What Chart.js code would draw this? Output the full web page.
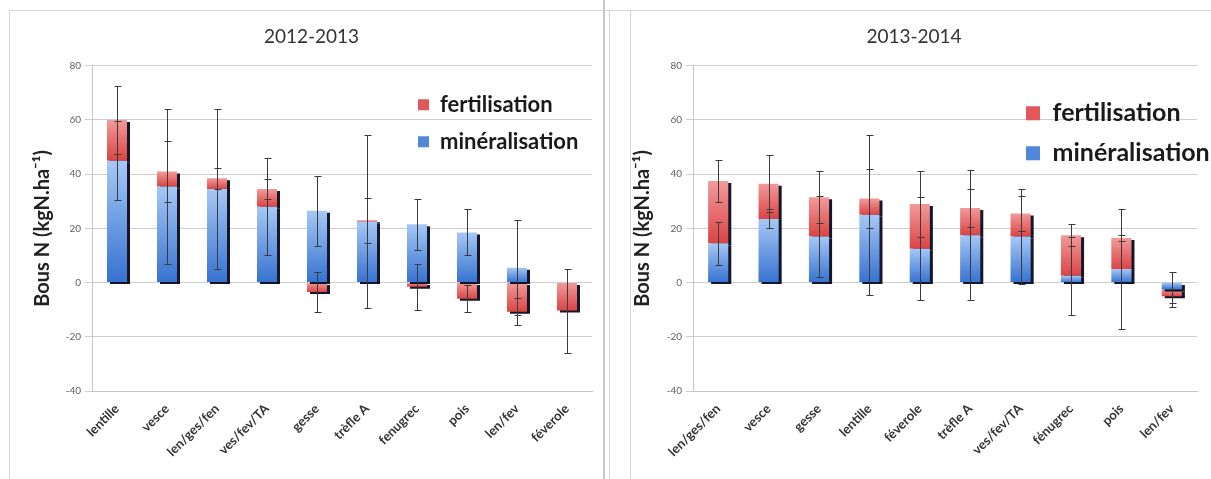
<!DOCTYPE html>
<html>
<head>
<meta charset="utf-8">
<script src="https://cdn.jsdelivr.net/npm/chart.js@4.4.1/dist/chart.umd.min.js"></script>
<style>
    body { margin: 0; background: #fff; }
    #wrap { position: relative; width: 1211px; height: 479px; overflow: hidden; }
    .panel { position: absolute; top: 0; width: 605px; height: 479px; }
    .frame { position: absolute; border: 1px solid #d6d6d6; pointer-events: none; }
</style>
</head>
<body>
<div id="wrap">
    <div class="panel" style="left:0"><canvas id="chart1" width="605" height="479"></canvas></div>
    <div class="panel" style="left:606px"><canvas id="chart2" width="605" height="479"></canvas></div>
    <div class="frame" style="left:9px;top:10px;width:620px;height:490px"></div>
    <div class="frame" style="left:603px;top:0;width:0;height:490px;border-color:#c8c8c8"></div>
    <div class="frame" style="left:609px;top:10px;width:620px;height:490px"></div>
</div>
<script>
// 2012-2013
const labels1 = ['lentille', 'vesce', 'len/ges/fen', 'ves/fev/TA', 'gesse', 'trèfle A', 'fenugrec', 'pois', 'len/fev', 'féverole'];
const mineral1 = [45, 35.5, 34.5, 28, 26.5, 22.5, 21.5, 18.5, 5.5, 0];
const fert1 = [15, 5.5, 4, 6.5, -3.5, 0.5, -1.5, -6, -10.8, -10.3];
const mineralErr1 = [14.5, 28.5, 29.5, 18, 13, 32, 9.5, 8.5, 17.5, 0];
const fertErr1 = [12.5, 11.3, 3.8, 3.8, 7.5, 8.3, 8.5, 5, 5, 15.5];

// 2013-2014
const labels2 = ['len/ges/fen', 'vesce', 'gesse', 'lentille', 'féverole', 'trèfle A', 'ves/fev/TA', 'fénugrec', 'pois', 'len/fev'];
const mineral2 = [14.5, 23.5, 17, 25, 12.5, 17.5, 17, 2.5, 5, -2.5];
const fert2 = [23, 13, 14.5, 6, 16.5, 10, 8.5, 15, 11.5, -2.5];
const mineralErr2 = [8, 3.5, 15, 29.5, 19, 24, 17.5, 14.5, 22, 6.5];
const fertErr2 = [7.8, 10.5, 9.5, 11, 12, 7, 6.5, 4, 1, 2.5];

const yTicks = [-40, -20, 0, 20, 40, 60, 80];
const yTitle = 'Bous N (kgN.ha⁻¹)';

const blueSolid = '#4f88d8';
const redSolid = '#e05858';

// vertical gradient for each bar segment, light at the top
function barFill(light, dark, solid) {
    return function(c) {
        const chart = c.chart;
        if (c.type !== 'data' || !chart.chartArea) return solid;
        const ds = chart.data.datasets;
        const m = ds[0].data[c.dataIndex];
        const f = ds[1].data[c.dataIndex];
        let from = 0, to = m;
        if (c.datasetIndex === 1) {
            from = ((f >= 0) === (m >= 0)) ? m : 0;
            to = from + f;
        }
        const y = chart.scales.y;
        const y0 = y.getPixelForValue(Math.max(from, to));
        const y1 = y.getPixelForValue(Math.min(from, to));
        if (!(y1 > y0)) return solid;
        const g = chart.ctx.createLinearGradient(0, y0, 0, y1);
        g.addColorStop(0, light);
        g.addColorStop(1, dark);
        return g;
    };
}

const barShadow = {
    id: 'barShadow',
    beforeDatasetsDraw(chart) {
        const ctx = chart.ctx;
        ctx.save();
        ctx.shadowColor = 'rgba(8, 10, 30, 0.95)';
        ctx.shadowOffsetX = 3;
        ctx.shadowOffsetY = 2;
        ctx.shadowBlur = 0;
    },
    afterDatasetsDraw(chart) {
        chart.ctx.restore();
    }
};

const errorBars = {
    id: 'errorBars',
    afterDatasetsDraw(chart) {
        const ctx = chart.ctx;
        const y = chart.scales.y;
        ctx.save();
        ctx.strokeStyle = '#3a3a3a';
        ctx.lineWidth = 1;
        chart.data.datasets.forEach((ds, di) => {
            chart.getDatasetMeta(di).data.forEach((bar, i) => {
                const e = ds.errors[i];
                if (!e) return;
                const v = y.getValueForPixel(bar.y);
                const top = Math.round(y.getPixelForValue(v + e)) + 0.5;
                const bot = Math.round(y.getPixelForValue(v - e)) + 0.5;
                const x = Math.round(bar.x) + 0.5;
                ctx.beginPath();
                ctx.moveTo(x, top); ctx.lineTo(x, bot);
                ctx.moveTo(x - 3, top); ctx.lineTo(x + 4, top);
                ctx.moveTo(x - 3, bot); ctx.lineTo(x + 4, bot);
                ctx.stroke();
            });
        });
        ctx.restore();
    }
};

// move the legend into the top right of the plot
const legendInside = {
    id: 'legendInside',
    afterLayout(chart, args, opts) {
        const lg = chart.legend, a = chart.chartArea;
        lg.left = a.left + opts.x;
        lg.top = a.top + opts.y;
        lg.right = lg.left + lg.width;
        lg.bottom = lg.top + lg.height;
    }
};

function makeChart(id, title, labels, mineral, fert, mineralErr, fertErr, opt) {
    const ctx = document.getElementById(id).getContext('2d');
    return new Chart(ctx, {
        type: 'bar',
        data: {
            labels: labels,
            datasets: [{
                label: 'minéralisation',
                data: mineral,
                errors: mineralErr,
                backgroundColor: barFill('#a6c8f6', '#3672d0', blueSolid),
                borderWidth: 0,
                categoryPercentage: 0.8,
                barPercentage: 0.5
            }, {
                label: 'fertilisation',
                data: fert,
                errors: fertErr,
                backgroundColor: barFill('#f39a9a', '#da4444', redSolid),
                borderWidth: 0,
                categoryPercentage: 0.8,
                barPercentage: 0.5
            }]
        },
        options: {
            responsive: false,
            animation: false,
            devicePixelRatio: 1,
            layout: { padding: { left: opt.padLeft, right: opt.padRight, top: 10, bottom: 0 } },
            plugins: {
                title: {
                    display: true,
                    text: title,
                    color: '#333',
                    font: { family: 'Lato', size: 19, weight: 'normal' },
                    padding: { top: 15, bottom: 18 }
                },
                legend: {
                    position: 'chartArea',
                    align: 'start',
                    reverse: true,
                    labels: {
                        boxWidth: opt.box,
                        boxHeight: opt.box,
                        padding: opt.legendGap,
                        color: '#1a1a1a',
                        font: { family: 'Lato', size: opt.legendSize, weight: 'bold' },
                        generateLabels: chart => Chart.defaults.plugins.legend.labels.generateLabels(chart)
                            .map(item => Object.assign(item, { fillStyle: item.datasetIndex === 0 ? blueSolid : redSolid }))
                    }
                },
                legendInside: { x: opt.legendX, y: opt.legendY },
                tooltip: { enabled: false }
            },
            scales: {
                x: {
                    stacked: true,
                    grid: { display: false },
                    border: { color: '#c4c4c4' },
                    ticks: {
                        maxRotation: 45,
                        minRotation: 45,
                        padding: 2,
                        color: '#333',
                        font: { family: 'Lato', size: 13, weight: 'bold' }
                    },
                    afterFit: s => { s.height = 88; }
                },
                y: {
                    stacked: true,
                    min: -40,
                    max: 80,
                    afterBuildTicks: s => { s.ticks = yTicks.map(v => ({ value: v })); },
                    grid: { color: '#cdcdcd', tickLength: 7 },
                    border: { color: '#c4c4c4' },
                    ticks: {
                        padding: 4,
                        color: '#606060',
                        font: { family: 'Lato', size: 10 }
                    },
                    title: {
                        display: true,
                        text: yTitle,
                        color: '#222',
                        font: { family: 'Lato', size: 20, weight: 'bold' },
                        padding: 0
                    },
                    afterFit: s => { s.width = opt.yWidth; }
                }
            }
        },
        plugins: [barShadow, errorBars, legendInside]
    });
}

makeChart('chart1', '2012-2013', labels1, mineral1, fert1, mineralErr1, fertErr1,
    { padLeft: 31, padRight: 13, yWidth: 61, legendX: 311, legendY: 13, legendSize: 22, legendGap: 15, box: 11 });
makeChart('chart2', '2013-2014', labels2, mineral2, fert2, mineralErr2, fertErr2,
    { padLeft: 25, padRight: 14, yWidth: 62, legendX: 318, legendY: 20, legendSize: 25, legendGap: 15, box: 14 });
</script>
</body>
</html>
